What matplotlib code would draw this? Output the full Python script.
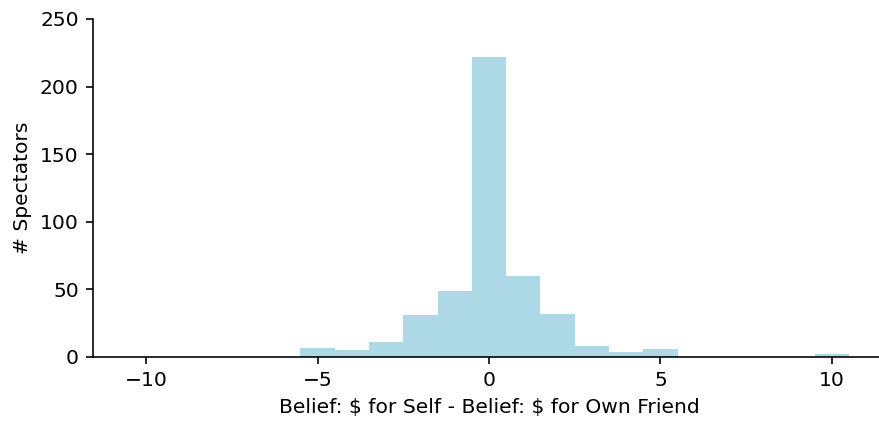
import numpy as np
import matplotlib
matplotlib.use("Agg")
import matplotlib.pyplot as plt

# difference values (integer bins) and number of spectators in each
diffs = [-10, -9, -8, -7, -6, -5, -4, -3, -2, -1, 0, 1, 2, 3, 4, 5, 6, 7, 8, 9, 10]
counts = [0, 0, 0, 0, 0, 7, 5, 11, 31, 49, 222, 60, 32, 8, 4, 6, 0, 0, 0, 0, 2]

edges = np.arange(-10.5, 11.5, 1)

DPI = 146
fig = plt.figure(figsize=(879 / DPI, 422 / DPI), dpi=DPI)
# axes runs a little past the right edge, as in the reference
ax = fig.add_axes([93 / 879, 1 - 357 / 422, (885 - 93) / 879, (357 - 19) / 422])
ax.hist(diffs, bins=edges, weights=counts, color="lightblue")

ax.set_ylim(0, 250)
ax.set_xticks([-10, -5, 0, 5, 10])
ax.set_yticks([0, 50, 100, 150, 200, 250])
ax.spines["top"].set_visible(False)
ax.spines["right"].set_visible(False)
ax.set_xlabel("Belief: \\$ for Self - Belief: \\$ for Own Friend")
ax.set_ylabel("# Spectators")

fig.savefig("out.png", dpi=DPI)
